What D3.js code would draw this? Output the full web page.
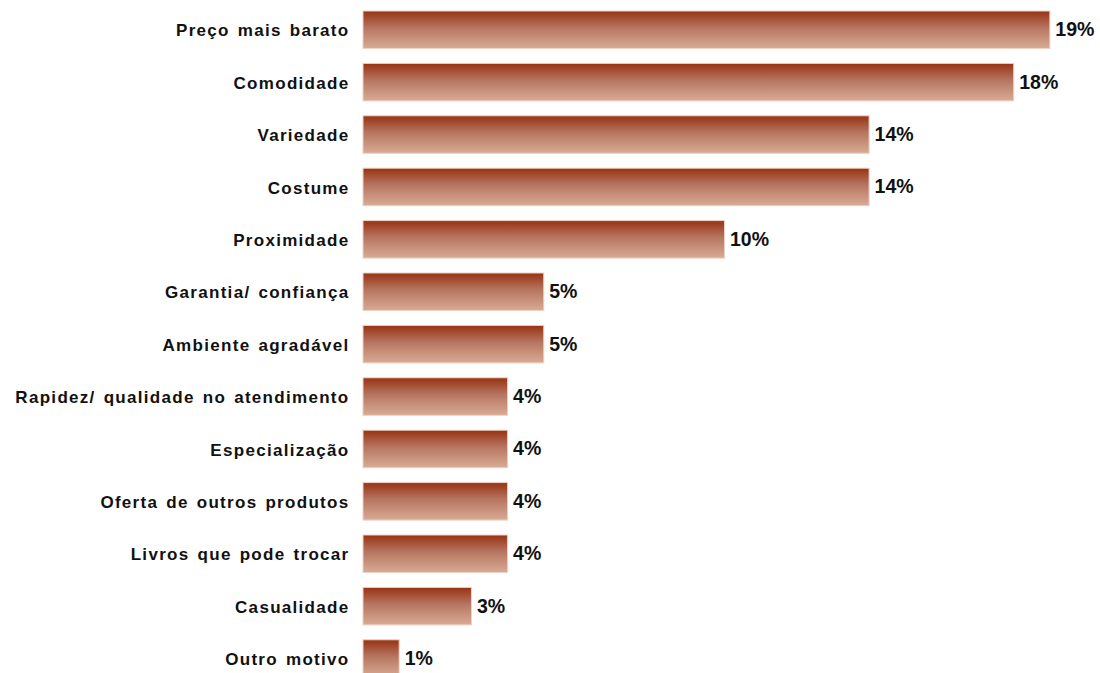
<!DOCTYPE html>
<html>
<head>
<meta charset="utf-8">
<script src="https://cdn.jsdelivr.net/npm/d3@7"></script>
<style>
  html, body { margin: 0; padding: 0; background: #ffffff; }
  svg { display: block; }
</style>
</head>
<body>
<svg id="chart" width="1100" height="673"></svg>
<script>
// Reasons given for choosing the store (% of answers)
const categories = [
  "Preço mais barato",
  "Comodidade",
  "Variedade",
  "Costume",
  "Proximidade",
  "Garantia/ confiança",
  "Ambiente agradável",
  "Rapidez/ qualidade no atendimento",
  "Especialização",
  "Oferta de outros produtos",
  "Livros que pode trocar",
  "Casualidade",
  "Outro motivo"
];
const values = [19, 18, 14, 14, 10, 5, 5, 4, 4, 4, 4, 3, 1];

const svg = d3.select("#chart");

const step = 52.4, pad = 0.284;
const y0 = 11 - step * pad / 2;
const y = d3.scaleBand()
  .domain(categories)
  .range([y0, y0 + step * categories.length])
  .paddingInner(pad)
  .paddingOuter(pad / 2);

const x = d3.scaleLinear()
  .domain([0, 19])
  .range([363, 363 + 19 * 36.15]);

// vertical gradient: dark rust on top fading to light tan
const defs = svg.append("defs");
const grad = defs.append("linearGradient")
  .attr("id", "barGrad")
  .attr("x1", 0).attr("y1", 0).attr("x2", 0).attr("y2", 1);
grad.append("stop").attr("offset", "0%").attr("stop-color", "#983212");
grad.append("stop").attr("offset", "45%").attr("stop-color", "#b67661");
grad.append("stop").attr("offset", "100%").attr("stop-color", "#d9ab94");

const rows = categories.map((c, i) => ({ cat: c, val: values[i] }));

svg.append("g").selectAll("rect")
  .data(rows)
  .join("rect")
  .attr("x", x(0))
  .attr("y", d => y(d.cat))
  .attr("width", d => x(d.val) - x(0))
  .attr("height", y.bandwidth())
  .attr("fill", "url(#barGrad)")
  .attr("stroke", "#ecd2c4")
  .attr("stroke-width", 1);

// category axis labels
svg.append("g").selectAll("text")
  .data(rows)
  .join("text")
  .attr("x", 349.5)
  .attr("y", d => y(d.cat) + y.bandwidth() / 2)
  .attr("dy", "0.39em")
  .attr("text-anchor", "end")
  .attr("font-family", "'Liberation Sans', Arial, sans-serif")
  .attr("font-weight", "bold")
  .attr("font-size", "17px")
  .attr("letter-spacing", "1.3px")
  .attr("word-spacing", "2px")
  .attr("fill", "#111")
  .text(d => d.cat);

// value labels
svg.append("g").selectAll("text")
  .data(rows)
  .join("text")
  .attr("x", d => x(d.val) + 5.5)
  .attr("y", d => y(d.cat) + y.bandwidth() / 2)
  .attr("dy", "0.33em")
  .attr("font-family", "'Liberation Sans', Arial, sans-serif")
  .attr("font-weight", "bold")
  .attr("font-size", "19.5px")
  .attr("fill", "#111")
  .text(d => d.val + "%");
</script>
</body>
</html>
